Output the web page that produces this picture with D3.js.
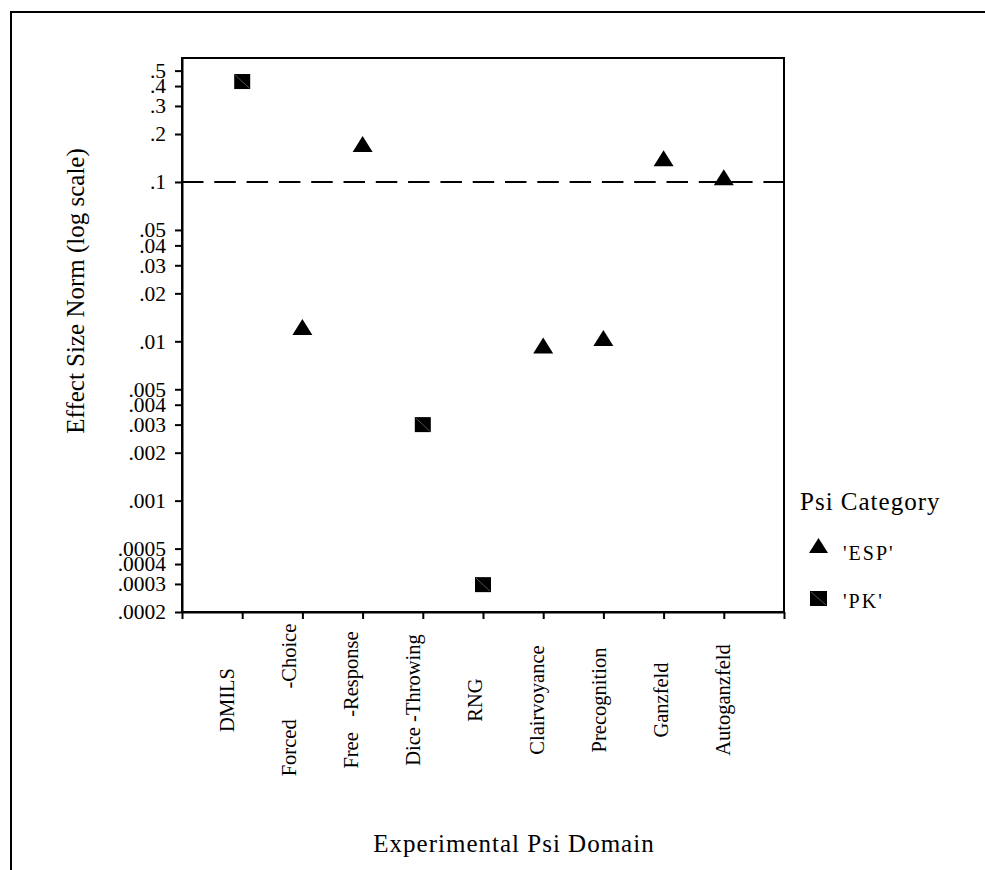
<!DOCTYPE html>
<html>
<head>
<meta charset="utf-8">
<script src="https://cdn.jsdelivr.net/npm/d3@7"></script>
<style>
	body { margin: 0; background: #fff; }
	text { font-family: "Liberation Serif", "Times New Roman", serif; fill: #000; }
</style>
</head>
<body>
<script>

// data
var domains = ["DMILS", "Forced      -Choice", "Free   -Response", "Dice -Throwing", "RNG", "Clairvoyance", "Precognition", "Ganzfeld", "Autoganzfeld"];
var effectSizes = [0.427, 0.0123, 0.173, 0.0030, 0.000297, 0.0094, 0.0105, 0.141, 0.107];
var psiCategory = ["PK", "ESP", "ESP", "PK", "PK", "ESP", "ESP", "ESP", "ESP"];
var yTickValues = [0.5, 0.4, 0.3, 0.2, 0.1, 0.05, 0.04, 0.03, 0.02, 0.01, 0.005, 0.004, 0.003, 0.002, 0.001, 0.0005, 0.0004, 0.0003, 0.0002];
var yTickLabels = [".5", ".4", ".3", ".2", ".1", ".05", ".04", ".03", ".02", ".01", ".005", ".004", ".003", ".002", ".001", ".0005", ".0004", ".0003", ".0002"];
var legendKeys = ["ESP", "PK"];
var legendLabels = ["'ESP'", "'PK'"];
var normLine = 0.1;

var w = 985;
var h = 870;

var svg = d3.select("body")
			.append("svg")
			.attr("width", w)
			.attr("height", h);

// outer frame, runs off the right and bottom
svg.append("rect")
	.attr("x", 11)
	.attr("y", 12)
	.attr("width", 1000)
	.attr("height", 900)
	.attr("fill", "none")
	.attr("stroke", "#000")
	.attr("stroke-width", 2);

var x = d3.scaleLinear()
			.domain([0, domains.length + 1])
			.range([182, 784]);

// the category labels sit on a slightly wider spacing than the ticks
var xLabel = d3.scalePoint()
			.domain(domains)
			.range([227, 723]);

var y = d3.scaleLog()
			.domain([0.0002, 0.6])
			.range([612, 58]);

// plot box
svg.append("rect")
	.attr("x", x(0))
	.attr("y", y.range()[1])
	.attr("width", x(domains.length + 1) - x(0))
	.attr("height", y.range()[0] - y.range()[1])
	.attr("fill", "none")
	.attr("stroke", "#000")
	.attr("stroke-width", 2);

var yAxis = svg.append("g")
	.attr("transform", "translate(" + x(0) + ",0)")
	.call(d3.axisLeft(y)
		.tickValues(yTickValues)
		.tickFormat(function(d, i) { return yTickLabels[i]; })
		.tickSize(7)
		.tickSizeOuter(0)
		.tickPadding(9));

yAxis.selectAll("line").attr("stroke", "#000").attr("stroke-width", 2);
yAxis.select(".domain").attr("stroke", "#000").attr("stroke-width", 2);
yAxis.selectAll("text")
	.attr("font-size", "21.5px")
	.attr("fill", "#000");

var xAxis = svg.append("g")
	.attr("transform", "translate(0," + y.range()[0] + ")")
	.call(d3.axisBottom(x)
		.tickValues(d3.range(0, domains.length + 2))
		.tickFormat("")
		.tickSize(7)
		.tickSizeOuter(0));

xAxis.selectAll("line").attr("stroke", "#000").attr("stroke-width", 2);
xAxis.select(".domain").attr("stroke", "#000").attr("stroke-width", 2);

// rotated category labels
svg.selectAll("text.xlab")
	.data(domains)
	.enter()
	.append("text")
	.attr("class", "xlab")
	.attr("transform", function(d) {
		return "translate(" + xLabel(d) + ",700) rotate(-90)";
	})
	.attr("dy", "0.35em")
	.attr("text-anchor", "middle")
	.attr("font-size", "20.5px")
	.style("white-space", "pre")
	.text(function(d) { return d; });

// dashed norm line
svg.append("line")
	.attr("x1", x(0))
	.attr("x2", x(domains.length + 1))
	.attr("y1", y(normLine))
	.attr("y2", y(normLine))
	.attr("stroke", "#000")
	.attr("stroke-width", 2)
	.attr("stroke-dasharray", "21.5,10.8");

function drawMarker (g, cat, tw, th) {
	if (cat === "ESP") {
		g.append("path")
			.attr("d", "M0," + (-th / 2) + "L" + (tw / 2) + "," + (th / 2) + "L" + (-tw / 2) + "," + (th / 2) + "Z")
			.attr("fill", "#000");
	} else {
		g.append("rect")
			.attr("x", -tw / 2)
			.attr("y", -th / 2)
			.attr("width", tw)
			.attr("height", th)
			.attr("fill", "#000");
		g.append("line")
			.attr("x1", -tw / 2 + 1)
			.attr("y1", -th / 2 + 1)
			.attr("x2", tw / 2 - 1)
			.attr("y2", th / 2 - 1)
			.attr("stroke", "#888")
			.attr("stroke-width", 0.6);
	}
}

var points = svg.selectAll("g.pt")
	.data(effectSizes)
	.enter()
	.append("g")
	.attr("class", "pt")
	.attr("transform", function(d, i) {
		return "translate(" + x(i + 1) + "," + y(d) + ")";
	});

points.each(function(d, i) {
	var cat = psiCategory[i];
	if (cat === "ESP") drawMarker(d3.select(this), cat, 20, 16);
	else drawMarker(d3.select(this), cat, 16, 15);
});

// axis titles
svg.append("text")
	.attr("transform", "translate(84,291) rotate(-90)")
	.attr("text-anchor", "middle")
	.attr("font-size", "25px")
	.text("Effect Size Norm (log scale)");

svg.append("text")
	.attr("x", 514)
	.attr("y", 852)
	.attr("text-anchor", "middle")
	.attr("font-size", "25px")
	.attr("letter-spacing", "1px")
	.text("Experimental Psi Domain");

// legend
svg.append("text")
	.attr("x", 800)
	.attr("y", 510)
	.attr("font-size", "25px")
	.attr("letter-spacing", "1px")
	.text("Psi Category");

var legend = svg.selectAll("g.leg")
	.data(legendKeys)
	.enter()
	.append("g")
	.attr("class", "leg")
	.attr("transform", function(d, i) {
		return "translate(818.5," + (545.5 + i * 53) + ")";
	});

legend.each(function(d) {
	if (d === "ESP") drawMarker(d3.select(this), d, 19, 15);
	else drawMarker(d3.select(this), d, 17, 15);
});

legend.append("text")
	.attr("x", 24.5)
	.attr("y", function(d, i) { return i === 0 ? 14.5 : 9.5; })
	.attr("font-size", "20px")
	.attr("letter-spacing", "2px")
	.text(function(d, i) { return legendLabels[i]; });

</script>
</body>
</html>
